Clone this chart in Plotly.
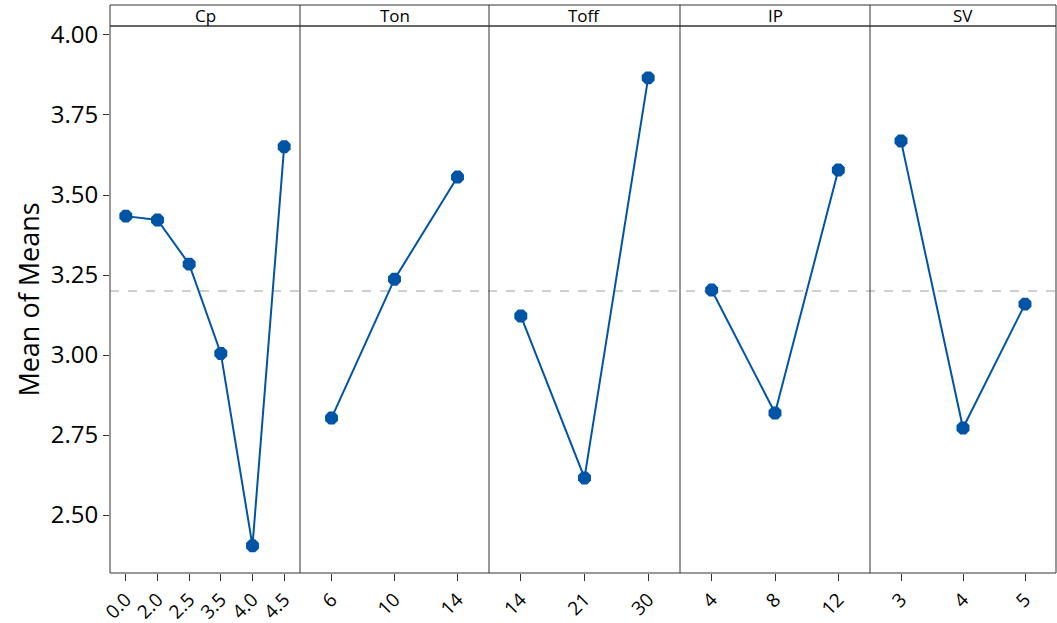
import plotly.graph_objects as go

# Main effects of each factor on the mean response
factors = ["Cp", "Ton", "Toff", "IP", "SV"]
levels = {
    "Cp": ["0.0", "2.0", "2.5", "3.5", "4.0", "4.5"],
    "Ton": ["6", "10", "14"],
    "Toff": ["14", "21", "30"],
    "IP": ["4", "8", "12"],
    "SV": ["3", "4", "5"],
}
means = {
    "Cp": [3.434, 3.422, 3.284, 3.005, 2.404, 3.651],
    "Ton": [2.803, 3.237, 3.556],
    "Toff": [3.122, 2.616, 3.866],
    "IP": [3.203, 2.819, 3.578],
    "SV": [3.669, 2.772, 3.159],
}
grand_mean = 3.2

# Panel boundaries as fractions of the plotting width
edges = [0, 190 / 946, 379 / 946, 570 / 946, 760 / 946, 1.0]
header_h = 21 / 547

line_color = "#0054A6"
font_family = "Open Sans, Noto Sans, sans-serif"

fig = go.Figure()
layout_axes = {}
for i, f in enumerate(factors):
    xa = "x" if i == 0 else f"x{i + 1}"
    fig.add_trace(go.Scatter(
        x=levels[f], y=means[f], xaxis=xa, yaxis="y",
        mode="lines+markers",
        line=dict(color=line_color, width=2),
        marker=dict(color=line_color, size=14, symbol="octagon"),
        showlegend=False, hoverinfo="x+y",
    ))
    key = "xaxis" if i == 0 else f"xaxis{i + 1}"
    layout_axes[key] = dict(
        domain=[edges[i], edges[i + 1]],
        anchor="y",
        type="category",
        categoryorder="array",
        categoryarray=levels[f],
        range=[-0.5, len(levels[f]) - 0.5],
        showgrid=False, zeroline=False,
        showline=False, automargin=False,
        ticks="outside", ticklen=7, tickcolor="#333333", tickwidth=1,
        tickangle=-45,
        tickfont=dict(family=font_family, size=19, color="black"),
    )

shapes = []
# Outer frame including header strip
shapes.append(dict(type="rect", xref="paper", yref="paper", x0=0, x1=1, y0=0, y1=1 + header_h,
                   line=dict(color="#333333", width=1), fillcolor="rgba(0,0,0,0)", layer="above"))
# Header separator
shapes.append(dict(type="line", xref="paper", yref="paper", x0=0, x1=1, y0=1, y1=1,
                   line=dict(color="#333333", width=1.5), layer="above"))
# Panel dividers
for e in edges[1:-1]:
    shapes.append(dict(type="line", xref="paper", yref="paper", x0=e, x1=e, y0=0, y1=1 + header_h,
                       line=dict(color="#333333", width=1), layer="above"))
# Grand mean reference line
shapes.append(dict(type="line", xref="paper", yref="y", x0=0, x1=1, y0=grand_mean, y1=grand_mean,
                   line=dict(color="#A0A0A0", width=1.2, dash="dash"), layer="below"))

annotations = []
for i, f in enumerate(factors):
    annotations.append(dict(
        x=(edges[i] + edges[i + 1]) / 2, y=1 + header_h / 2,
        xref="paper", yref="paper", text=f, showarrow=False,
        font=dict(family=font_family, size=17, color="black"),
        xanchor="center", yanchor="middle",
    ))

fig.update_layout(
    width=1057, height=623,
    margin=dict(l=110, r=1, t=26, b=50),
    paper_bgcolor="white", plot_bgcolor="white",
    yaxis=dict(
        range=[2.319, 4.028],
        tick0=2.5, dtick=0.25, tickformat=".2f",
        showgrid=False, zeroline=False, showline=False, automargin=False,
        ticks="outside", ticklen=6, tickcolor="#333333",
        tickfont=dict(family=font_family, size=24, color="black"),
        title=dict(text="Mean of Means", font=dict(family=font_family, size=27, color="black"), standoff=3),
    ),
    shapes=shapes,
    annotations=annotations,
    **layout_axes,
)

fig.write_html("out.html")
